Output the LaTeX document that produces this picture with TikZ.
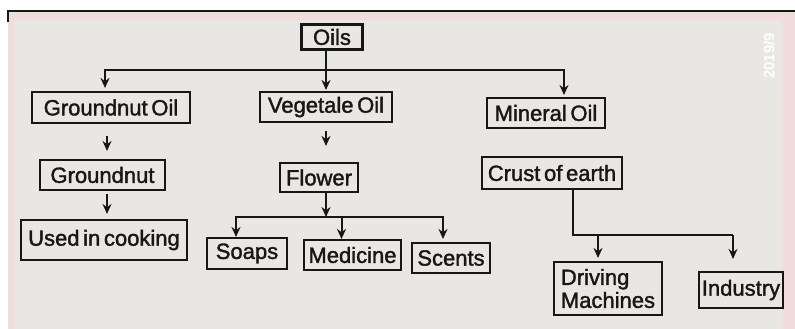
\documentclass[tikz,border=0pt]{standalone}
\usepackage{fontspec}
\setmainfont{Liberation Sans}
\newfontfamily\inkfont{Liberation Sans}[FakeBold=1.6, WordSpace=0.6]
\usetikzlibrary{arrows.meta, positioning, calc}
\definecolor{paper}{HTML}{E9E7E4}
\definecolor{paperpink}{HTML}{F1DCDC}
\definecolor{ink}{HTML}{171717}

\begin{document}
\begin{tikzpicture}[
  x=1pt, y=-1pt,
  box/.style={draw=ink, line width=2.1pt, inner sep=2pt, text=ink,
              font=\inkfont\fontsize{22}{23}\selectfont, minimum height=30pt},
  arr/.style={-{Stealth[length=10pt, width=9pt]}, line width=2pt, draw=ink},
  link/.style={line width=2pt, draw=ink}
]
  \useasboundingbox (0,0) rectangle (795,329);
  \fill[white] (0,0) rectangle (795,329);
  \fill[paperpink] (8,11) rectangle (795,329);
  \fill[paper] (14,20) rectangle (782,329);
  \draw[ink, line width=2.8pt] (8,22) -- (8,11) -- (795,11);
  \node[white, rotate=90, font=\bfseries\fontsize{15}{15}\selectfont] (stamp) at (769,56) {2019/9};

  \node[box, minimum width=61pt, minimum height=25pt] (oils) at (332,37) {Oils};
  \node[box, minimum width=158pt, minimum height=31pt] (gnoil) at (111,107.5) {Groundnut Oil};
  \node[box, minimum width=132pt] (vegoil) at (326,107) {Vegetale Oil};
  \node[box, minimum width=118pt] (minoil) at (546,113) {Mineral Oil};
  \node[box, minimum width=125pt] (gnut) at (102.5,175) {Groundnut};
  \node[box, minimum width=166pt, minimum height=40pt] (cooking) at (104,240) {Used in cooking};
  \node[box, minimum width=78pt, minimum height=29pt] (flower) at (319,177.5) {Flower};
  \node[box, minimum width=80pt, minimum height=31pt] (soaps) at (247,253.5) {Soaps};
  \node[box, minimum width=97pt] (medicine) at (352.5,255) {Medicine};
  \node[box, minimum width=78pt] (scents) at (451,258) {Scents};
  \node[box, minimum width=140pt, minimum height=32pt] (crust) at (552,173) {Crust of earth};
  \node[box, minimum width=108pt, minimum height=53pt, align=left] (driving) at (608,288.5) {Driving\\Machines};
  \node[box, minimum width=84pt, minimum height=36pt] (industry) at (741,290) {Industry};

  \coordinate (top) at (326,70);
  \draw[link] (oils.south -| top) -- (top);
  \draw[arr, shorten >=1pt] (top) -- (vegoil.north);
  \draw[arr, shorten >=3pt] (top) -| ($(gnoil.north)+(-6,0)$);
  \draw[arr, shorten >=2pt] (top) -| ($(minoil.north)+(18,0)$);

  \draw[arr, shorten <=12pt, shorten >=8pt] ($(gnoil.south)+(-4,0)$) -- ($(gnut.north)+(4.5,0)$);
  \draw[arr, shorten <=3pt, shorten >=5pt] ($(gnut.south)+(4.5,0)$) -- ($(cooking.north)+(3,0)$);
  \draw[arr, shorten <=8pt, shorten >=16pt] (vegoil.south) -- (vegoil.south |- flower.north);

  \coordinate (fsplit) at (326,217);
  \draw[arr] (flower.south -| fsplit) -- (fsplit);
  \draw[arr] (fsplit) -| ($(soaps.north)+(-11,0)$);
  \draw[arr] (fsplit) -| ($(scents.north)+(-8,-3)$);
  \draw[arr] ($(medicine.north |- fsplit)+(-11,0)$) -- ($(medicine.north)+(-11,0)$);

  \coordinate (csplit) at (573,235);
  \draw[link] (crust.south -| csplit) -- (csplit) -- ($(csplit -| industry)+(-8,0)$);
  \draw[arr, shorten >=3pt] ($(csplit -| driving)+(-10,0)$) -- ($(driving.north)+(-10,0)$);
  \draw[arr, shorten >=12pt] ($(csplit -| industry)+(-8,0)$) -- ($(industry.north)+(-8,0)$);
\end{tikzpicture}
\end{document}
